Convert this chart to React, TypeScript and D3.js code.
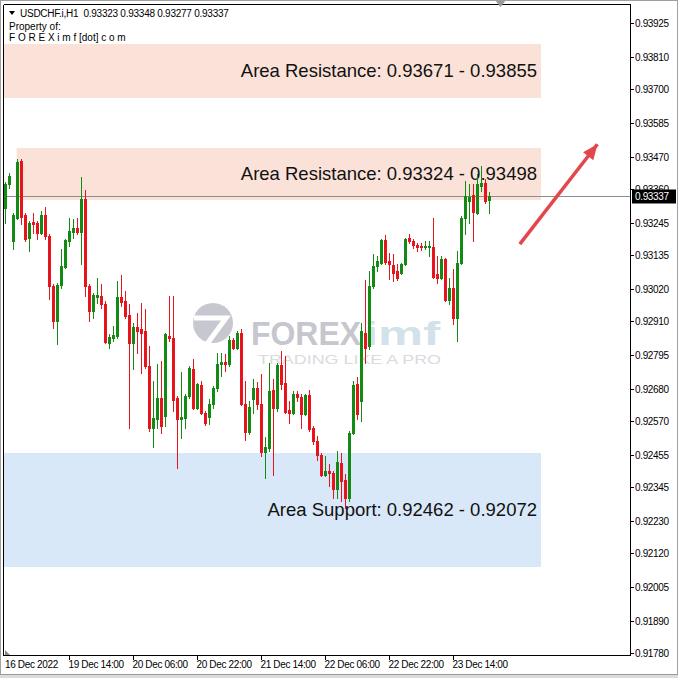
import React from 'react';
import * as d3 from 'd3';

// ---- Data (USDCHF.i, H1) ----
const opens = [
  0.93295, 0.93377, 0.93183, 0.93261, 0.93455, 0.93271, 0.93193, 0.93247, 0.93244, 0.93210,
  0.93271, 0.93200, 0.93030, 0.92910, 0.93033, 0.93094, 0.93183, 0.93213, 0.93227, 0.93213,
  0.93326, 0.93030, 0.92944, 0.92992, 0.92996, 0.92968, 0.92835, 0.92852, 0.92859, 0.92992,
  0.92979, 0.92931, 0.92835, 0.92890, 0.92883, 0.92876, 0.92757, 0.92546, 0.92577, 0.92648,
  0.92587, 0.92859, 0.92852, 0.92648, 0.92577, 0.92580, 0.92655, 0.92747, 0.92614, 0.92692,
  0.92597, 0.92584, 0.92628, 0.92682, 0.92764, 0.92771, 0.92764, 0.92846, 0.92818, 0.92870,
  0.92628, 0.92532, 0.92645, 0.92682, 0.92628, 0.92464, 0.92478, 0.92675, 0.92614, 0.92761,
  0.92699, 0.92607, 0.92597, 0.92662, 0.92652, 0.92594, 0.92658, 0.92546, 0.92502, 0.92454,
  0.92386, 0.92400, 0.92393, 0.92338, 0.92427, 0.92369, 0.92308, 0.92529, 0.92696, 0.92638,
  0.92870, 0.92825, 0.93030, 0.93098, 0.93108, 0.93186, 0.93115, 0.93101, 0.93081, 0.93074,
  0.93104, 0.93193, 0.93183, 0.93169, 0.93166, 0.93162, 0.93162, 0.93162, 0.93070, 0.93057,
  0.93122, 0.92982, 0.93023, 0.92921, 0.93108, 0.93261, 0.93319, 0.93339, 0.93278, 0.93370,
  0.93380, 0.93323,
];
const highs = [
  0.93384, 0.93414, 0.93278, 0.93462, 0.93462, 0.93278, 0.93251, 0.93278, 0.93251, 0.93285,
  0.93299, 0.93207, 0.93036, 0.93040, 0.93156, 0.93190, 0.93261, 0.93258, 0.93261, 0.93401,
  0.93356, 0.93036, 0.93006, 0.93057, 0.93036, 0.92979, 0.92866, 0.92893, 0.93047, 0.93067,
  0.93013, 0.92968, 0.92904, 0.92938, 0.92972, 0.92951, 0.92825, 0.92706, 0.92764, 0.92774,
  0.92870, 0.92996, 0.92996, 0.92655, 0.92737, 0.92662, 0.92757, 0.92781, 0.92699, 0.92706,
  0.92604, 0.92645, 0.92689, 0.92801, 0.92801, 0.92798, 0.92859, 0.92852, 0.92876, 0.92883,
  0.92706, 0.92638, 0.92713, 0.92703, 0.92730, 0.92515, 0.92767, 0.92713, 0.92767, 0.92808,
  0.92791, 0.92638, 0.92672, 0.92672, 0.92662, 0.92662, 0.92675, 0.92553, 0.92519, 0.92461,
  0.92451, 0.92424, 0.92400, 0.92468, 0.92461, 0.92389, 0.92536, 0.92706, 0.92720, 0.92904,
  0.93050, 0.93081, 0.93139, 0.93132, 0.93190, 0.93203, 0.93142, 0.93139, 0.93104, 0.93108,
  0.93193, 0.93207, 0.93190, 0.93176, 0.93176, 0.93183, 0.93183, 0.93261, 0.93132, 0.93132,
  0.93125, 0.93057, 0.93087, 0.93149, 0.93268, 0.93387, 0.93377, 0.93377, 0.93411, 0.93438,
  0.93394, 0.93348,
];
const lows = [
  0.93244, 0.93363, 0.93156, 0.93258, 0.93241, 0.93183, 0.93149, 0.93210, 0.93190, 0.93207,
  0.93190, 0.92985, 0.92887, 0.92832, 0.93023, 0.93091, 0.93166, 0.93193, 0.93207, 0.93104,
  0.92996, 0.92910, 0.92921, 0.92972, 0.92955, 0.92835, 0.92818, 0.92842, 0.92852, 0.92961,
  0.92921, 0.92546, 0.92747, 0.92801, 0.92733, 0.92750, 0.92536, 0.92481, 0.92546, 0.92529,
  0.92553, 0.92842, 0.92604, 0.92410, 0.92512, 0.92546, 0.92648, 0.92611, 0.92611, 0.92594,
  0.92556, 0.92560, 0.92614, 0.92672, 0.92723, 0.92740, 0.92757, 0.92815, 0.92815, 0.92624,
  0.92505, 0.92526, 0.92597, 0.92611, 0.92451, 0.92376, 0.92468, 0.92386, 0.92604, 0.92679,
  0.92597, 0.92563, 0.92594, 0.92638, 0.92546, 0.92590, 0.92536, 0.92492, 0.92437, 0.92383,
  0.92383, 0.92349, 0.92308, 0.92308, 0.92298, 0.92274, 0.92298, 0.92526, 0.92577, 0.92570,
  0.92767, 0.92815, 0.93023, 0.93081, 0.93104, 0.93104, 0.93053, 0.93047, 0.93050, 0.93070,
  0.93101, 0.93176, 0.93159, 0.93149, 0.93152, 0.93156, 0.93132, 0.93057, 0.93040, 0.93053,
  0.92979, 0.92968, 0.92900, 0.92842, 0.93104, 0.93207, 0.93244, 0.93183, 0.93275, 0.93353,
  0.93312, 0.93277,
];
const closes = [
  0.93377, 0.93404, 0.93271, 0.93452, 0.93265, 0.93190, 0.93244, 0.93241, 0.93210, 0.93271,
  0.93200, 0.93030, 0.92910, 0.93033, 0.93098, 0.93186, 0.93217, 0.93227, 0.93213, 0.93326,
  0.93030, 0.92944, 0.92999, 0.92999, 0.92968, 0.92839, 0.92856, 0.92863, 0.92992, 0.92975,
  0.92927, 0.92835, 0.92890, 0.92876, 0.92870, 0.92757, 0.92546, 0.92580, 0.92648, 0.92553,
  0.92866, 0.92852, 0.92641, 0.92577, 0.92584, 0.92655, 0.92750, 0.92614, 0.92696, 0.92597,
  0.92563, 0.92628, 0.92682, 0.92764, 0.92771, 0.92764, 0.92846, 0.92818, 0.92870, 0.92628,
  0.92532, 0.92618, 0.92682, 0.92628, 0.92464, 0.92481, 0.92672, 0.92614, 0.92761, 0.92696,
  0.92601, 0.92597, 0.92662, 0.92652, 0.92594, 0.92658, 0.92543, 0.92502, 0.92454, 0.92386,
  0.92400, 0.92393, 0.92338, 0.92430, 0.92366, 0.92308, 0.92529, 0.92692, 0.92594, 0.92876,
  0.92818, 0.93030, 0.93098, 0.93115, 0.93186, 0.93111, 0.93104, 0.93074, 0.93057, 0.93104,
  0.93190, 0.93183, 0.93169, 0.93162, 0.93162, 0.93166, 0.93166, 0.93060, 0.93057, 0.93122,
  0.92982, 0.93023, 0.92921, 0.93108, 0.93261, 0.93336, 0.93333, 0.93282, 0.93377, 0.93380,
  0.93319, 0.93337,
];

const priceTicks = [
  0.93925, 0.9381, 0.937, 0.93585, 0.9347, 0.9336, 0.93245, 0.93135, 0.9302, 0.9291,
  0.92795, 0.9268, 0.9257, 0.92455, 0.92345, 0.9223, 0.9212, 0.92005, 0.9189, 0.9178,
];
const timeTickIndex = [0, 16, 32, 48, 64, 80, 96, 112];
const timeTickLabels = [
  '16 Dec 2022', '19 Dec 14:00', '20 Dec 06:00', '20 Dec 22:00',
  '21 Dec 14:00', '22 Dec 06:00', '22 Dec 22:00', '23 Dec 14:00',
];

// price zones (low, high), labels, bar-index anchors
const zoneLow = [0.93671, 0.93324, 0.92072];
const zoneHigh = [0.93855, 0.93498, 0.92462];
const zoneLabels = [
  'Area Resistance: 0.93671 - 0.93855',
  'Area Resistance: 0.93324 - 0.93498',
  'Area Support: 0.92462 - 0.92072',
];
const zoneKind = ['res', 'res', 'sup'];
const zoneStartBar = [-0.35, 2.9, -0.35];
const zoneEndBar = [134, 134, 134];

// arrow anchor (bar index, price)
const arrowFrom = [128.7, 0.93172];
const arrowTo = [148.1, 0.93512];

const lastPrice = 0.93337;
const headerText = 'USDCHF.i,H1  0.93323 0.93348 0.93277 0.93337';

export default function App() {
  const W = 678;
  const H = 678;
  const frameL = 3.5;
  const frameR = 630.5;
  const frameT = 4.5;
  const frameB = 655.5;

  const x = d3.scaleLinear().domain([0, 121]).range([5, 489]);
  const y = d3.scaleLinear().domain([0.9178, 0.93925]).range([653, 23]);

  const bull = '#138a13';
  const bear = '#e8141b';
  const axisFont = '"Liberation Sans", Arial, sans-serif';

  const candles = opens.map((o, i) => {
    const c = closes[i];
    const h = highs[i];
    const l = lows[i];
    const cx = Math.round(x(i));
    const col = c >= o ? bull : bear;
    const yTop = Math.round(y(Math.max(o, c)));
    const yBot = Math.round(y(Math.min(o, c)));
    const yH = Math.round(y(h));
    const yL = Math.round(y(l));
    return (
      <g key={i}>
        <rect x={cx} y={yH} width={1} height={Math.max(1, yL - yH + 1)} fill={col} />
        <rect x={cx - 1} y={yTop} width={3} height={Math.max(1, yBot - yTop + 1)} fill={col} />
      </g>
    );
  });

  const arrowLine = d3.line()([
    [x(arrowFrom[0]), y(arrowFrom[1])],
    [x(arrowTo[0]), y(arrowTo[1])],
  ]);
  const ax0 = x(arrowFrom[0]);
  const ay0 = y(arrowFrom[1]);
  const ax1 = x(arrowTo[0]);
  const ay1 = y(arrowTo[1]);
  const ang = Math.atan2(ay1 - ay0, ax1 - ax0);
  const headLen = 15;
  const headW = 6.5;
  const bx = ax1 - headLen * Math.cos(ang);
  const by = ay1 - headLen * Math.sin(ang);
  const head = [
    [ax1, ay1],
    [bx + headW * Math.sin(ang), by - headW * Math.cos(ang)],
    [bx - headW * Math.sin(ang), by + headW * Math.cos(ang)],
  ];

  const yLast = Math.round(y(lastPrice)) + 0.5;

  return (
    <svg
      width={W}
      height={H}
      style={{ position: 'absolute', left: 0, top: 0, background: '#ffffff' }}
      xmlns="http://www.w3.org/2000/svg"
    >
      <rect x={0} y={0} width={W} height={H} fill="#ffffff" />

      {/* zones */}
      {zoneLow.map((lo, i) => {
        const x0 = x(zoneStartBar[i]);
        const x1 = x(zoneEndBar[i]);
        const y0 = Math.round(y(zoneHigh[i]));
        const y1 = Math.round(y(lo));
        return (
          <rect
            key={'z' + i}
            x={x0}
            y={y0}
            width={x1 - x0}
            height={y1 - y0}
            fill={zoneKind[i] === 'res' ? '#fbe2d8' : '#d8e8f8'}
          />
        );
      })}

      {/* watermark */}
      <g>
        <circle cx={213} cy={323} r={20} fill="#c7c7cf" />
        <polyline
          points="194,318 226,318 207,344"
          fill="none"
          stroke="#ffffff"
          strokeWidth={5}
          strokeLinejoin="miter"
        />
        <text
          x={251}
          y={345}
          fontFamily={axisFont}
          fontWeight="bold"
          fontSize={33}
          fill="#c6c6ce"
          textLength={110}
          lengthAdjust="spacingAndGlyphs"
        >
          FOREX
        </text>
        <text
          x={364}
          y={345}
          fontFamily={axisFont}
          fontWeight="bold"
          fontSize={33}
          fill="#d2e1ea"
          textLength={76}
          lengthAdjust="spacingAndGlyphs"
        >
          imf
        </text>
        <text
          x={258}
          y={364}
          fontFamily={axisFont}
          fontSize={13}
          fill="#dadae0"
          textLength={183}
          lengthAdjust="spacingAndGlyphs"
        >
          TRADING LIKE A PRO
        </text>
      </g>

      {/* zone labels */}
      {zoneLabels.map((t, i) => {
        const yc = (y(zoneLow[i]) + y(zoneHigh[i])) / 2;
        return (
          <text
            key={'zl' + i}
            x={537}
            y={yc + 6.5}
            textAnchor="end"
            fontFamily={axisFont}
            fontSize={18.5}
            fill="#111111"
          >
            {t}
          </text>
        );
      })}

      {/* last price line */}
      <line x1={frameL} x2={frameR} y1={yLast} y2={yLast} stroke="#8c8c8c" strokeWidth={1} />

      {/* candles */}
      <g shapeRendering="crispEdges">{candles}</g>

      {/* arrow */}
      <path d={arrowLine || ''} stroke="#e3474c" strokeWidth={3.5} fill="none" />
      <polygon points={head.map((p) => p.join(',')).join(' ')} fill="#e3474c" />

      {/* frame */}
      <g shapeRendering="crispEdges">
        <line x1={frameL} x2={frameR} y1={frameT} y2={frameT} stroke="#000" />
        <line x1={frameL} x2={frameL} y1={frameT} y2={frameB} stroke="#000" />
        <line x1={frameL} x2={frameR} y1={frameB} y2={frameB} stroke="#000" />
        <line x1={frameR} x2={frameR} y1={frameT} y2={frameB} stroke="#000" />
      </g>

      {/* price axis */}
      <g fontFamily={axisFont} fontSize={10} fill="#000">
        {priceTicks.map((p, i) => {
          const yy = Math.round(y(p)) + 0.5;
          return (
            <g key={'pt' + i}>
              <line x1={frameR} x2={frameR + 3} y1={yy} y2={yy} stroke="#000" shapeRendering="crispEdges" />
              <text x={635} y={yy + 3.5} letterSpacing={-0.35}>
                {p.toFixed(5)}
              </text>
            </g>
          );
        })}
      </g>
      {/* last price label */}
      <rect x={632} y={yLast - 7} width={44} height={14} fill="#000" />
      <text x={635} y={yLast + 3.5} fontFamily={axisFont} fontSize={10} fill="#fff" letterSpacing={-0.35}>
        {lastPrice.toFixed(5)}
      </text>

      {/* time axis */}
      <g fontFamily={axisFont} fontSize={10} fill="#000">
        {timeTickIndex.map((bi, i) => {
          const xx = Math.round(x(bi)) + 0.5;
          return (
            <g key={'tt' + i}>
              {i > 0 && (
                <line x1={xx} x2={xx} y1={frameB} y2={frameB + 4} stroke="#000" shapeRendering="crispEdges" />
              )}
              <text x={i === 0 ? 5 : xx - 1} y={668} letterSpacing={-0.35}>
                {timeTickLabels[i]}
              </text>
            </g>
          );
        })}
      </g>
      <polygon points="5,650 5,655 10,655" fill="#8a8a8a" />

      {/* header */}
      <polygon points="9,11 15,11 12,15" fill="#000" />
      <text
        x={20}
        y={17}
        fontFamily={axisFont}
        fontSize={10}
        fill="#000"
        letterSpacing={-0.25}
        style={{ whiteSpace: 'pre' }}
      >
        {headerText}
      </text>
      <text x={9} y={29.5} fontFamily={axisFont} fontSize={10} fill="#000">
        Property of:
      </text>
      <text x={9} y={41} fontFamily={axisFont} fontSize={10} fill="#000">
        F O R E X i m f [dot] c o m
      </text>
      <polygon points="495,0 506,0 500.5,7" fill="#9a9a9a" />

      {/* window border */}
      <rect x={0.5} y={0.5} width={W - 1} height={H - 1} fill="none" stroke="#a0a0a0" />
      <rect x={0} y={674} width={W} height={4} fill="#dcdcdc" />
      <line x1={0} x2={W} y1={674.5} y2={674.5} stroke="#9a9a9a" />
    </svg>
  );
}
